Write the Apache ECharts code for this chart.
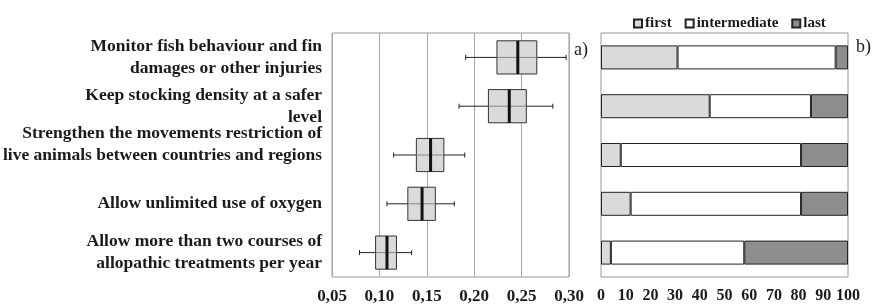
<!DOCTYPE html>
<html>
<head>
<meta charset="utf-8">
<script src="https://cdn.jsdelivr.net/npm/echarts@6/dist/echarts.min.js"></script>
<style>
  html, body { margin: 0; padding: 0; background: #fff; }
  #chart { width: 873px; height: 306px; }
</style>
</head>
<body>
<div id="chart"></div>
<script>
// measures, top to bottom
var categories = [
    "Monitor fish behaviour and fin\ndamages or other injuries",
    "Keep stocking density at a safer\nlevel",
    "Strengthen the movements restriction of\nlive animals between countries and regions\n ",
    "Allow unlimited use of oxygen",
    "Allow more than two courses of\nallopathic treatments per year"
];

// a) box plot values
var whiskerLow = [0.191, 0.184, 0.115, 0.108, 0.079];
var quart1 = [0.224, 0.215, 0.139, 0.130, 0.096];
var median = [0.246, 0.237, 0.154, 0.145, 0.108];
var quart3 = [0.266, 0.255, 0.168, 0.159, 0.118];
var whiskerHigh = [0.297, 0.283, 0.190, 0.179, 0.134];

// b) share of ranks (%)
var first = [31, 44, 8, 12, 4];
var intermediate = [64, 41, 73, 69, 54];
var last = [5, 15, 19, 19, 42];

var serif = '"Liberation Serif", "Times New Roman", serif';
var ink = "#1a1a1a";

var boxData = categories.map(function (c, i) {
    return [i, whiskerLow[i], quart1[i], median[i], quart3[i], whiskerHigh[i]];
});

function renderBox(params, api) {
    var cat = api.value(0);
    var lo = api.coord([api.value(1), cat]);
    var a = api.coord([api.value(2), cat]);
    var m = api.coord([api.value(3), cat]);
    var b = api.coord([api.value(4), cat]);
    var hi = api.coord([api.value(5), cat]);
    var y = lo[1];
    var h = api.size([0, 1])[1] * 0.68;
    var cap = 2.5;
    var dark = { stroke: "#222", lineWidth: 1 };
    return {
        type: "group",
        children: [
            { type: "rect", shape: { x: a[0], y: y - h / 2, width: b[0] - a[0], height: h },
              style: { fill: "#dadada", stroke: "#333", lineWidth: 1 } },
            { type: "line", shape: { x1: lo[0], y1: y, x2: a[0], y2: y }, style: dark },
            { type: "line", shape: { x1: b[0], y1: y, x2: hi[0], y2: y }, style: dark },
            { type: "line", shape: { x1: a[0], y1: y, x2: b[0], y2: y }, style: { stroke: "#888", lineWidth: 1 } },
            { type: "line", shape: { x1: lo[0], y1: y - cap, x2: lo[0], y2: y + cap }, style: dark },
            { type: "line", shape: { x1: hi[0], y1: y - cap, x2: hi[0], y2: y + cap }, style: dark },
            { type: "line", shape: { x1: m[0], y1: y - h / 2, x2: m[0], y2: y + h / 2 },
              style: { stroke: "#111", lineWidth: 3 } }
        ]
    };
}

var chart = echarts.init(document.getElementById("chart"));

var barStyle = { borderColor: "#222", borderWidth: 1 };

chart.setOption({
    animation: false,
    backgroundColor: "#fff",
    textStyle: { fontFamily: serif },
    grid: [
        { left: 332, right: 304, top: 33, bottom: 29, show: true, borderColor: "#999", borderWidth: 1,
          containLabel: false, outerBoundsMode: "none" },
        { left: 601, right: 25, top: 33, bottom: 29, show: true, borderColor: "#999", borderWidth: 1,
          containLabel: false, outerBoundsMode: "none" }
    ],
    legend: {
        data: ["first", "intermediate", "last"],
        left: 628,
        top: 11,
        itemWidth: 8,
        itemHeight: 8,
        itemGap: 13,
        icon: "rect",
        textStyle: { fontFamily: serif, fontSize: 15, fontWeight: "bold", color: ink, padding: [0, 0, 0, -2] }
    },
    xAxis: [
        {
            type: "value", gridIndex: 0,
            min: 0.05, max: 0.30, interval: 0.05,
            axisLine: { show: false },
            axisTick: { show: false },
            splitLine: { show: true, lineStyle: { color: "#a8a8a8", width: 1 } },
            axisLabel: {
                fontFamily: serif, fontSize: 17, fontWeight: "bold", color: ink, margin: 11,
                formatter: function (v) { return v.toFixed(2).replace(".", ","); }
            }
        },
        {
            type: "value", gridIndex: 1,
            min: 0, max: 100, interval: 10,
            axisLine: { show: false },
            axisTick: { show: false },
            splitLine: { show: false },
            axisLabel: { fontFamily: serif, fontSize: 16, fontWeight: "bold", color: ink, margin: 11 }
        }
    ],
    yAxis: [
        {
            type: "category", gridIndex: 0, data: categories, inverse: true,
            axisLine: { show: false },
            axisTick: { show: false },
            axisLabel: {
                fontFamily: serif, fontSize: 17.5, fontWeight: "bold", color: ink,
                lineHeight: 22, margin: 10
            }
        },
        {
            type: "category", gridIndex: 1, data: categories, inverse: true,
            axisLine: { show: false },
            axisTick: { show: false },
            axisLabel: { show: false }
        }
    ],
    graphic: [
        { type: "text", left: 574, top: 41, style: { text: "a)", font: "18px " + serif, fill: ink } },
        { type: "text", left: 856, top: 38, style: { text: "b)", font: "18px " + serif, fill: ink } }
    ],
    series: [
        {
            type: "custom",
            xAxisIndex: 0, yAxisIndex: 0,
            renderItem: renderBox,
            encode: { x: [1, 2, 3, 4, 5], y: 0 },
            data: boxData,
            silent: true
        },
        {
            name: "first", type: "bar", stack: "rank", xAxisIndex: 1, yAxisIndex: 1,
            barWidth: 24, data: first,
            itemStyle: Object.assign({ color: "#dadada" }, barStyle)
        },
        {
            name: "intermediate", type: "bar", stack: "rank", xAxisIndex: 1, yAxisIndex: 1,
            barWidth: 24, data: intermediate,
            itemStyle: Object.assign({ color: "#ffffff" }, barStyle)
        },
        {
            name: "last", type: "bar", stack: "rank", xAxisIndex: 1, yAxisIndex: 1,
            barWidth: 24, data: last,
            itemStyle: Object.assign({ color: "#8e8e90" }, barStyle)
        }
    ]
});
</script>
</body>
</html>
